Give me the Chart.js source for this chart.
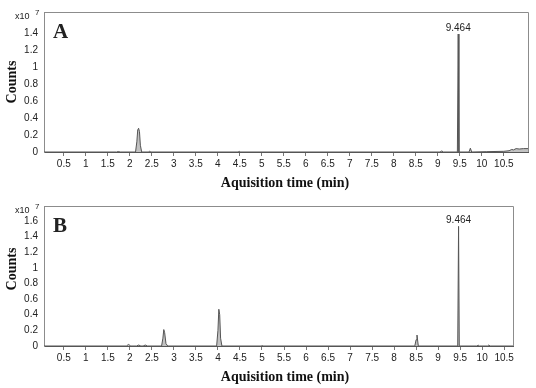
<!DOCTYPE html>
<html>
<head>
<meta charset="utf-8">
<script src="https://cdn.jsdelivr.net/npm/chart.js@4.4.1/dist/chart.umd.min.js"></script>
<style>
  html, body { margin: 0; padding: 0; background: #fff; }
  canvas { display: block; }
</style>
</head>
<body>
<canvas id="chart-a" width="536" height="194"></canvas>
<canvas id="chart-b" width="536" height="194"></canvas>
<script>
// Chromatogram A: acquisition time (min) / counts (x10^7)
const timeA = [0.05, 1.70, 1.74, 1.78, 2.13, 2.16, 2.18, 2.20, 2.22, 2.24, 2.27, 2.42, 2.45, 2.48,
  4.46, 4.49, 4.52, 9.05, 9.09, 9.13, 9.445, 9.464, 9.48, 9.71, 9.74, 9.77,
  10.10, 10.50, 10.62, 10.68, 10.72, 10.78, 10.85, 10.95, 11.05];
const countsA = [0, 0, 0.006, 0, 0, 0.12, 0.26, 0.28, 0.24, 0.08, 0, 0, 0.008, 0,
  0, 0.007, 0, 0, 0.012, 0, 0, 1.39, 0, 0, 0.045, 0,
  0.004, 0.008, 0.015, 0.03, 0.025, 0.04, 0.035, 0.04, 0.04];

// Chromatogram B
const timeB = [0.05, 1.92, 1.97, 2.02, 2.15, 2.20, 2.25, 2.30, 2.35, 2.40,
  2.72, 2.75, 2.77, 2.79, 2.82, 2.86, 3.97, 4.00, 4.02, 4.04, 4.06, 4.09,
  4.98, 5.00, 5.02, 8.47, 8.50, 8.52, 8.55, 9.445, 9.464, 9.48,
  9.88, 9.91, 9.94, 10.12, 10.15, 10.18, 10.70];
const countsB = [0, 0, 0.02, 0, 0, 0.012, 0, 0, 0.012, 0,
  0, 0.1, 0.21, 0.17, 0.03, 0, 0, 0.2, 0.47, 0.4, 0.1, 0,
  0, 0.006, 0, 0, 0.08, 0.14, 0, 0, 1.53, 0,
  0, 0.01, 0, 0, 0.012, 0, 0];

// tick labels
const xTicks = [0.5, 1, 1.5, 2, 2.5, 3, 3.5, 4, 4.5, 5, 5.5, 6, 6.5, 7, 7.5, 8, 8.5, 9, 9.5, 10, 10.5];
const yTicksA = [0, 0.2, 0.4, 0.6, 0.8, 1, 1.2, 1.4];
const yTicksB = [0, 0.2, 0.4, 0.6, 0.8, 1, 1.2, 1.4, 1.6];

const SANS = '"Liberation Sans", Arial, sans-serif';
const SERIF = '"Liberation Serif", "Times New Roman", serif';

// frame, labels and titles drawn on top of the chart
const decorations = {
  id: 'decorations',
  afterDraw(chart, args, opts) {
    const ctx = chart.ctx;
    const area = chart.chartArea;
    const xs = chart.scales.x;
    const ys = chart.scales.y;
    ctx.save();

    // top and right edges of the frame
    ctx.strokeStyle = '#8c8c8c';
    ctx.lineWidth = 1;
    ctx.beginPath();
    ctx.moveTo(area.left, area.top + 0.5);
    ctx.lineTo(area.right + 0.5, area.top + 0.5);
    ctx.lineTo(area.right + 0.5, area.bottom);
    ctx.stroke();

    // label over the highest peak
    const data = chart.data.datasets[0].data;
    let top = data[0];
    data.forEach(p => { if (p.y > top.y) top = p; });
    ctx.fillStyle = '#222';
    ctx.font = '10px ' + SANS;
    ctx.textAlign = 'center';
    ctx.textBaseline = 'bottom';
    ctx.fillText(top.x.toFixed(3), xs.getPixelForValue(top.x), ys.getPixelForValue(top.y) - 1);

    // panel letter
    ctx.font = 'bold 21px ' + SERIF;
    ctx.textAlign = 'left';
    ctx.textBaseline = 'middle';
    ctx.fillText(opts.letter, area.left + 9, area.top + 21);

    // exponent
    ctx.font = '9px ' + SANS;
    ctx.textAlign = 'left';
    ctx.textBaseline = 'middle';
    ctx.fillText('x10', 15, area.top + 5);
    ctx.font = '8px ' + SANS;
    ctx.fillText('7', 35, area.top + 1);

    // axis titles
    ctx.fillStyle = '#111';
    ctx.font = 'bold 14px ' + SERIF;
    ctx.textAlign = 'center';
    ctx.textBaseline = 'middle';
    ctx.fillText('Aquisition time (min)', 285, area.bottom + 31);
    ctx.save();
    ctx.translate(12, opts.countsY);
    ctx.rotate(-Math.PI / 2);
    ctx.fillText('Counts', 0, 0);
    ctx.restore();

    ctx.restore();
  }
};

function drawChromatogram(canvasId, times, counts, yTicks, opts) {
  const ctx = document.getElementById(canvasId).getContext('2d');
  new Chart(ctx, {
    type: 'line',
    data: {
      datasets: [{
        data: times.map((t, i) => ({ x: t, y: counts[i] })),
        borderColor: '#555',
        borderWidth: 1,
        backgroundColor: '#c2c2c2',
        fill: 'origin',
        pointRadius: 0,
        tension: 0
      }]
    },
    options: {
      responsive: false,
      animation: false,
      layout: {
        padding: { left: 0, right: opts.padRight, top: opts.padTop, bottom: 0 }
      },
      plugins: {
        legend: { display: false },
        tooltip: { enabled: false },
        decorations: { letter: opts.letter, countsY: opts.countsY }
      },
      scales: {
        x: {
          type: 'linear',
          min: 0.05,
          max: opts.xMax,
          afterBuildTicks: scale => { scale.ticks = xTicks.map(v => ({ value: v })); },
          afterFit: scale => { scale.height = 42; },
          grid: { drawOnChartArea: false, tickLength: 4, color: '#777' },
          border: { color: '#555', width: 1 },
          ticks: {
            padding: 2,
            maxRotation: 0,
            autoSkip: false,
            color: '#222',
            font: { size: 10, family: SANS },
            callback: v => String(v)
          }
        },
        y: {
          min: 0,
          max: opts.yMax,
          afterBuildTicks: scale => { scale.ticks = yTicks.map(v => ({ value: v })); },
          afterFit: scale => { scale.width = 44; },
          grid: { display: false, drawTicks: false, tickLength: 0 },
          border: { color: '#8c8c8c', width: 1 },
          ticks: {
            padding: 6,
            color: '#222',
            font: { size: 10, family: SANS },
            callback: v => String(v)
          }
        }
      }
    },
    plugins: [decorations]
  });
}

drawChromatogram('chart-a', timeA, countsA, yTicksA,
  { xMax: 11.05, yMax: 1.65, padTop: 7, padRight: 8, letter: 'A', countsY: 82 });
drawChromatogram('chart-b', timeB, countsB, yTicksB,
  { xMax: 10.7, yMax: 1.79, padTop: 9, padRight: 23, letter: 'B', countsY: 75 });
</script>
</body>
</html>
